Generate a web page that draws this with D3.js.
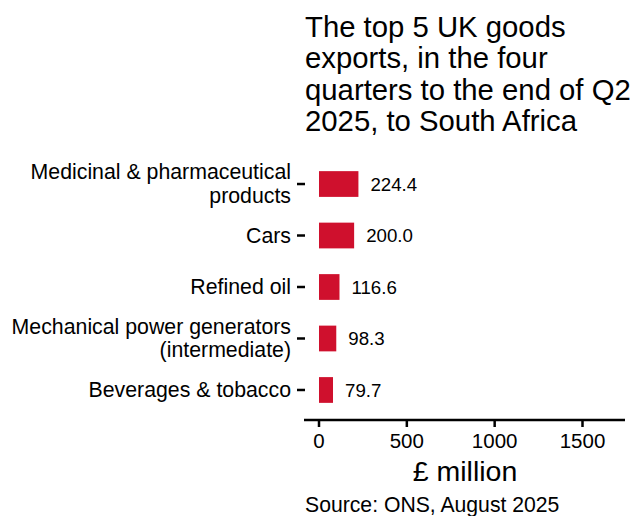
<!DOCTYPE html>
<html><head><meta charset="utf-8">
<script src="https://cdn.jsdelivr.net/npm/d3@7"></script>
<style>body{margin:0;background:#fff}svg{display:block}text{font-family:"Liberation Sans",Arial,sans-serif;fill:#000}</style>
</head><body>
<script>
const categories = [["Medicinal & pharmaceutical","products"],["Cars"],["Refined oil"],["Mechanical power generators","(intermediate)"],["Beverages & tobacco"]];
const values = [224.4, 200.0, 116.6, 98.3, 79.7];
const xTicks = [0, 500, 1000, 1500];
const titleLines = ["The top 5 UK goods","exports, in the four","quarters to the end of Q2","2025, to South Africa"];
const xTitle = "£ million";
const source = "Source: ONS, August 2025";

const W=634,H=516;
const svg=d3.select("body").append("svg").attr("width",W).attr("height",H);
const x=d3.scaleLinear().domain([0,1500]).range([319,582.5]);
const y=d3.scaleBand().domain(d3.range(categories.length)).range([145.4,428.6]).padding(0.5);
const red="#CF102D";

// title
const t=svg.append("text").style("font-size","29.3px");
titleLines.forEach((l,i)=>t.append("tspan").attr("x",305).attr("y",37+i*31.4).text(l));

// bars
svg.selectAll("rect.bar").data(values).join("rect").attr("class","bar")
  .attr("x",x(0)).attr("y",(d,i)=>y(i)).attr("width",d=>x(d)-x(0)).attr("height",y.bandwidth()).attr("fill",red);
svg.selectAll("text.val").data(values).join("text").attr("class","val")
  .attr("x",d=>x(d)+12).attr("y",(d,i)=>y(i)+y.bandwidth()/2).attr("dy","0.36em")
  .style("font-size","18.7px").text(d=>d.toFixed(1));

// y axis
const ya=svg.append("g");
categories.forEach((c,i)=>{
  const cy=y(i)+y.bandwidth()/2;
  ya.append("line").attr("x1",297).attr("x2",305).attr("y1",cy).attr("y2",cy).attr("stroke","#000").attr("stroke-width",2.5);
  const tx=ya.append("text").attr("text-anchor","end").style("font-size","21.3px");
  const n=c.length, lh=23.3;
  c.forEach((s,j)=>tx.append("tspan").attr("x",291).attr("y",cy+(j-(n-1)/2)*lh).attr("dy","0.33em").text(s));
});

// x axis
const xg=svg.append("g").attr("transform","translate(0,420)");
xg.append("line").attr("x1",304).attr("x2",625).attr("stroke","#000").attr("stroke-width",2.5);
xg.selectAll("line.tk").data(xTicks).join("line").attr("class","tk").attr("x1",d=>x(d)).attr("x2",d=>x(d)).attr("y1",0).attr("y2",7).attr("stroke","#000").attr("stroke-width",2.5);
xg.selectAll("text").data(xTicks).join("text").attr("x",d=>x(d)).attr("y",28).attr("text-anchor","middle").style("font-size","20.5px").text(d=>d);

svg.append("text").attr("x",465).attr("y",481).attr("text-anchor","middle").style("font-size","28.5px").text(xTitle);
svg.append("text").attr("x",305).attr("y",512).style("font-size","21.2px").text(source);
</script>
</body></html>
